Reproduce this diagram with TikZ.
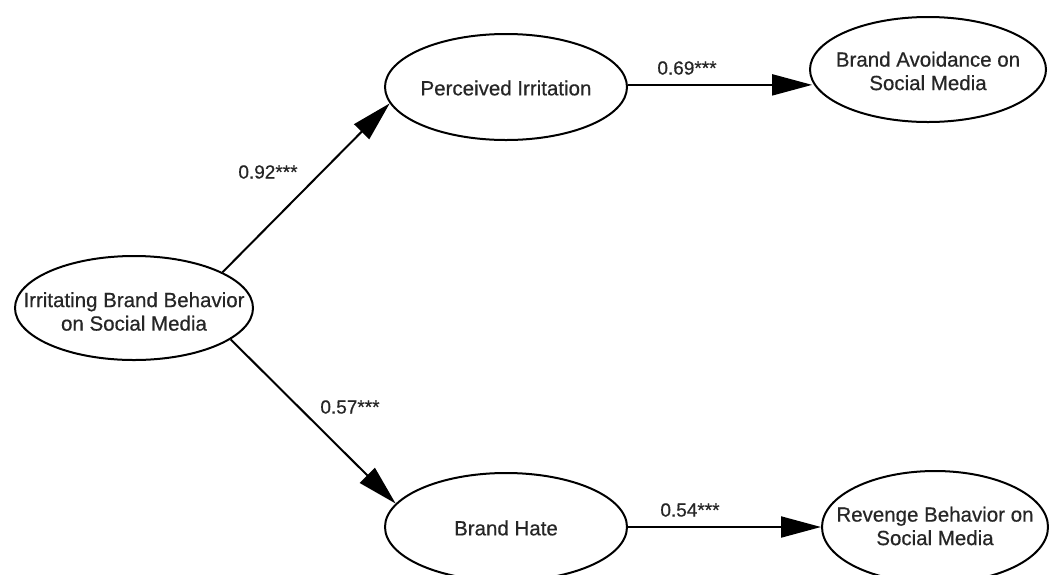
\documentclass[tikz,border=0pt]{standalone}
\usepackage{fontspec}
\setmainfont{Liberation Sans}[BoldFont={Liberation Sans},BoldFeatures={FakeBold=0.5}]
\usetikzlibrary{shapes.geometric,arrows.meta}
\tikzset{
  ell/.style={draw, ellipse, line width=2pt, inner sep=0pt, fill=white},
  lbl/.style={font=\fontsize{20.5}{23.5}\selectfont\bfseries, text=black!85, align=center, inner sep=0pt},
  coef/.style={font=\fontsize{19}{22}\selectfont\bfseries, text=black!85, inner sep=0pt},
  arr/.style={line width=2pt, -{Triangle[length=40pt,width=21pt]}},
}
\begin{document}
\begin{tikzpicture}[x=1pt,y=-1pt]
\useasboundingbox (0,0) rectangle (1049,574);
\clip (0,0) rectangle (1049,574);
% ellipses
\node[ell, minimum width=238pt, minimum height=104pt] (IB) at (134,308) {};
\node[ell, minimum width=242pt, minimum height=106pt] (PI) at (506,87) {};
\node[ell, minimum width=236pt, minimum height=105pt] (BA) at (928,69.5) {};
\node[ell, minimum width=242pt, minimum height=108pt] (BH) at (506,527) {};
\node[ell, minimum width=226pt, minimum height=112pt] (RB) at (935,527) {};
% texts
\node[lbl] (tIB) at (134,311.5) {Irritating Brand Behavior\\on Social Media};
\node[lbl] (tPI) at (506,88) {Perceived Irritation};
\node[lbl] (tBA) at (928,71) {Brand Avoidance on\\Social Media};
\node[lbl] (tBH) at (506,528) {Brand Hate};
\node[lbl] (tRB) at (935,526) {Revenge Behavior on\\Social Media};
% connectors
\draw[arr] (IB.22.5) -- (PI.188);
\draw[arr] (IB.-18) -- (BH.168.8);
\draw[arr] (PI.1.9) -- (BA.186.75 |- PI.1.9);
\draw[arr] (BH.east) -- (RB.west);
% coefficients
\node[coef] (c1) at (268,172) {0.92***};
\node[coef] (c2) at (687,68) {0.69***};
\node[coef] (c3) at (350,407) {0.57***};
\node[coef] (c4) at (690,510) {0.54***};
\end{tikzpicture}
\end{document}
